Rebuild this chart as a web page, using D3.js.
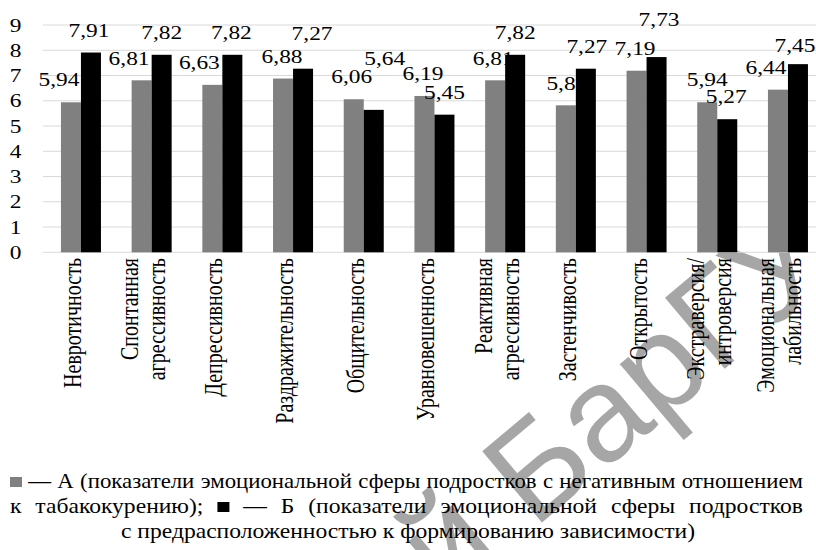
<!DOCTYPE html>
<html><head><meta charset="utf-8">
<script src="https://cdn.jsdelivr.net/npm/d3@7"></script>
<style>body{margin:0;background:#fff} svg{display:block}</style>
</head><body><svg id="c" width="816" height="550"></svg>
<script>
// ---- data ----
const categories = [["Невротичность"],["Спонтанная","агрессивность"],["Депрессивность"],["Раздражительность"],["Общительность"],["Уравновешенность"],["Реактивная","агрессивность"],["Застенчивость"],["Открытость"],["Экстраверсия/","интроверсия"],["Эмоциональная","лабильность"]];
const seriesA = [5.94,6.81,6.63,6.88,6.06,6.19,6.81,5.82,7.19,5.94,6.44];
const seriesB = [7.91,7.82,7.82,7.27,5.64,5.45,7.82,7.27,7.73,5.27,7.45];
const yTicks = [0,1,2,3,4,5,6,7,8,9];
const legendLine1 = ["■A","—","А","(показатели","эмоциональной","сферы","подростков","с","негативным","отношением"];
const legendLine2 = ["к","табакокурению);","■B","—","Б","(показатели","эмоциональной","сферы","подростков"];
const legendLine3 = "с предрасположенностью к формированию зависимости)";
const watermark = "Репозиторий БарГУ";
// ---- layout tweaks for value labels (dx, dy) ----
const nudgeA = [[-12,0],[-12.6,0],[-13,0],[-1,0],[-2,0],[-1.5,0],[-2,0],[1,0],[-1.5,0],[0,0],[-12,0]];
const nudgeB = [[-2,0],[0,0],[-1,0],[9,-13],[11,-29],[0,0],[0,0],[1,0],[2.5,-15],[-1,0],[-3,4]];

const svg = d3.select("#c");
const serif = "'Liberation Serif','Times New Roman',serif";
const S = 1.3; // horizontal glyph stretch of chart text
const colA = "#808080", colB = "#000000";

const y = d3.scaleLinear().domain([0,9]).range([252.3,25]);
const idx = categories.map((d,i)=>i);
const x0 = d3.scaleBand().domain(idx).range([45.6,823.3]).paddingInner(0.434).paddingOuter(0.217);
const x1 = d3.scaleBand().domain(["A","B"]).range([0,x0.bandwidth()]);

// watermark
svg.append("text").text(watermark)
  .attr("transform","translate(838,274) rotate(-40)")
  .attr("text-anchor","end")
  .style("font-family","'Liberation Sans',Arial,sans-serif")
  .style("font-size","135px").attr("fill","#a6a6a6");

// gridlines
svg.append("g").selectAll("line").data(yTicks).join("line")
  .attr("x1",43).attr("x2",816).attr("y1",d=>y(d)).attr("y2",d=>y(d))
  .attr("stroke","#d9d9d9").attr("stroke-width",1);

// y labels
svg.append("g").selectAll("text").data(yTicks).join("text")
  .attr("transform",d=>`translate(15.5,${y(d)+6.5}) scale(${S},1)`)
  .attr("text-anchor","middle").style("font-family",serif).style("font-size","18px")
  .text(d=>d);

const fmt = v => d3.format(".2f")(v).replace(".",",");

function drawBars(vals, key, col){
  svg.append("g").selectAll("rect").data(vals).join("rect")
    .attr("x",(d,i)=>x0(i)+x1(key)).attr("width",x1.bandwidth())
    .attr("y",d=>y(d)).attr("height",d=>y(0)-y(d)).attr("fill",col);
}
function drawLabels(vals, key, nudge){
  svg.append("g").selectAll("text").data(vals).join("text")
    .attr("transform",(d,i)=>`translate(${x0(i)+x1(key)+x1.bandwidth()/2+nudge[i][0]},${y(d)-15.8+nudge[i][1]}) scale(${S},1)`)
    .attr("text-anchor","middle").style("font-family",serif).style("font-size","18px")
    .text(d=>fmt(d));
}
drawBars(seriesA,"A",colA);
drawLabels(seriesA,"A",nudgeA);
drawBars(seriesB,"B",colB);
drawLabels(seriesB,"B",nudgeB);

// category labels
const cg = svg.append("g");
categories.forEach((lines,i)=>{
  const cx = x0(i)+x0.bandwidth()/2;
  lines.forEach((t,j)=>{
    const off = (j-(lines.length-1)/2)*27;
    cg.append("text").text(t)
      .attr("transform",`translate(${cx+off},258) scale(${S},1) rotate(-90)`)
      .attr("text-anchor","end").style("font-family",serif).style("font-size","20px");
  });
});

// legend
const LF = "20px";
function justify(words, yb, x0p, x1p, K){
  const g = svg.append("g");
  const items = words.map(w=>{
    if (w.startsWith("■")){
      return {sq: w==="■A"?colA:colB, w: 12};
    }
    const t = g.append("text").text(w).style("font-family",serif).style("font-size",LF);
    return {t, w: t.node().getComputedTextLength()*K};
  });
  const total = d3.sum(items,d=>d.w);
  const gap = (x1p-x0p-total)/(items.length-1);
  let cx = x0p;
  items.forEach(it=>{
    if (it.sq){
      g.append("rect").attr("x",cx).attr("y",yb-11).attr("width",it.w).attr("height",10).attr("fill",it.sq);
    } else {
      it.t.attr("transform",`translate(${cx},${yb}) scale(${K},1)`);
    }
    cx += it.w + gap;
  });
}
justify(legendLine1, 488, 10, 803, 1.14);
justify(legendLine2, 513, 10, 803, 1.18);
svg.append("text").text(legendLine3)
  .attr("transform",`translate(408,538) scale(1.18,1)`)
  .attr("text-anchor","middle").style("font-family",serif).style("font-size",LF);
</script></body></html>
